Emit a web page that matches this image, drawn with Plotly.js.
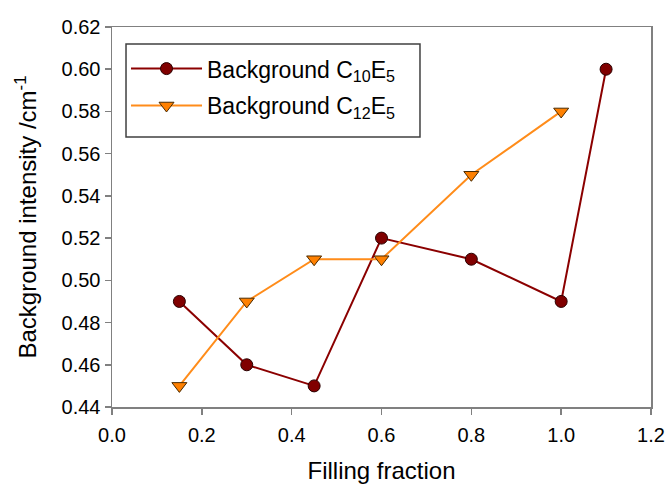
<!DOCTYPE html>
<html>
<head>
<meta charset="utf-8">
<script src="https://cdn.plot.ly/plotly-3.0.1.min.js"></script>
<style>html,body{margin:0;padding:0;background:#fff;}#chart{width:668px;height:484px;}</style>
</head>
<body>
<div id="chart"></div>
<script>
const fractionC10 = [0.15, 0.30, 0.45, 0.60, 0.80, 1.00, 1.10];
const intensityC10 = [0.49, 0.46, 0.45, 0.52, 0.51, 0.49, 0.60];
const fractionC12 = [0.15, 0.30, 0.45, 0.60, 0.80, 1.00];
const intensityC12 = [0.45, 0.49, 0.51, 0.51, 0.55, 0.58];
const seriesNames = ['Background C<sub>10</sub>E<sub>5</sub>', 'Background C<sub>12</sub>E<sub>5</sub>'];
const xTicks = [0.0, 0.2, 0.4, 0.6, 0.8, 1.0, 1.2];
const yTicks = [0.44, 0.46, 0.48, 0.50, 0.52, 0.54, 0.56, 0.58, 0.60, 0.62];

const font = 'Liberation Sans, Arial, sans-serif';
const traces = [
  {
    x: fractionC10, y: intensityC10, name: seriesNames[0], legendgroup: 'a',
    type: 'scatter', mode: 'lines+markers',
    line: {color: '#8B0000', width: 2},
    marker: {symbol: 'circle', size: 12, color: '#800000', line: {color: '#2a0000', width: 1}}
  },
  {
    x: fractionC12, y: intensityC12, name: seriesNames[1], legendgroup: 'b',
    type: 'scatter', mode: 'lines+markers',
    line: {color: '#FF8C1A', width: 2},
    marker: {symbol: 'triangle-down', size: 13, color: '#FF8000', line: {color: '#4a2a00', width: 1}}
  }
];
const axisCommon = {
  showline: true, linecolor: '#808080', linewidth: 1.5, mirror: true,
  ticks: 'outside', ticklen: 6, tickcolor: '#808080', tickwidth: 1.5,
  showgrid: false, zeroline: false,
  tickfont: {family: font, size: 20, color: '#000'}
};
const layout = {
  width: 668, height: 484,
  margin: {l: 112, r: 17, t: 27, b: 77},
  paper_bgcolor: '#fff', plot_bgcolor: '#fff',
  font: {family: font, color: '#000'},
  showlegend: true,
  legend: {
    x: 0.026, y: 0.947, xanchor: 'left', yanchor: 'top',
    borderwidth: 0, bgcolor: 'rgba(0,0,0,0)',
    font: {family: font, size: 23, color: '#000'},
    itemwidth: 71, traceorder: 'grouped', tracegroupgap: 4
  },
  shapes: [{
    type: 'rect', xref: 'paper', yref: 'paper',
    x0: 0.026, x1: 0.5714, y0: 0.7105, y1: 0.955,
    line: {color: '#404040', width: 1.5}, fillcolor: 'rgba(0,0,0,0)', layer: 'above'
  }],
  xaxis: Object.assign({}, axisCommon, {
    range: [0, 1.2], tickvals: xTicks, ticktext: xTicks.map(v => v.toFixed(1)),
    ticklabelstandoff: 3,
    title: {text: 'Filling fraction', font: {family: font, size: 24, color: '#000'}, standoff: 17}
  }),
  yaxis: Object.assign({}, axisCommon, {
    range: [0.44, 0.62], tickvals: yTicks, ticktext: yTicks.map(v => v.toFixed(2)),
    title: {text: 'Background intensity /cm<sup>-1</sup>', font: {family: font, size: 24, color: '#000'}, standoff: 18}
  })
};
Plotly.newPlot('chart', traces, layout, {displayModeBar: false, staticPlot: true});
</script>
</body>
</html>
